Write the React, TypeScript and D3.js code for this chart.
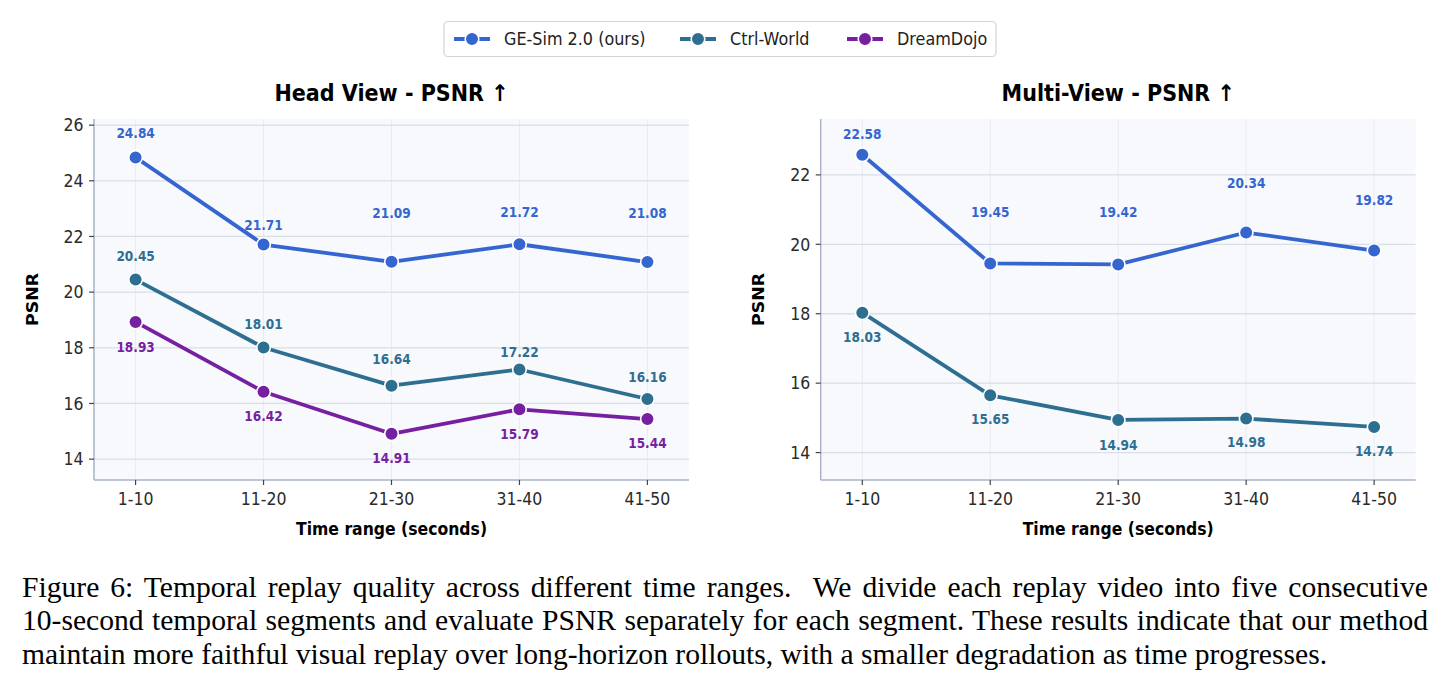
import React, { useEffect, useRef } from 'react';
import * as d3 from 'd3';

// time buckets on the x axis
const categories = ['1-10', '11-20', '21-30', '31-40', '41-50'];

// Head view PSNR
const headGeSim = [24.84, 21.71, 21.09, 21.72, 21.08];
const headCtrlWorld = [20.45, 18.01, 16.64, 17.22, 16.16];
const headDreamDojo = [18.93, 16.42, 14.91, 15.79, 15.44];
const headTicks = [14, 16, 18, 20, 22, 24, 26];

// Multi-view PSNR
const multiGeSim = [22.58, 19.45, 19.42, 20.34, 19.82];
const multiCtrlWorld = [18.03, 15.65, 14.94, 14.98, 14.74];
const multiTicks = [14, 16, 18, 20, 22];

const seriesNames = ['GE-Sim 2.0 (ours)', 'Ctrl-World', 'DreamDojo'];
const seriesColors = ['#3566d0', '#2e6f91', '#761fa0'];

// vertical nudge of each value label (px, relative to its marker)
const headGeSimLabelDy = [-24, -19, -49, -32, -49];
const headCtrlLabelDy = [-23, -23, -27, -17, -22];
const headDreamLabelDy = [25, 24, 24, 24.5, 24.5];
const multiGeSimLabelDy = [-21, -51, -52, -49, -50];
const multiCtrlLabelDy = [24, 24, 25, 24, 24.5];

const captionLines = [
  'Figure 6: Temporal replay quality across different time ranges.  We divide each replay video into five consecutive',
  '10-second temporal segments and evaluate PSNR separately for each segment. These results indicate that our method',
  'maintain more faithful visual replay over long-horizon rollouts, with a smaller degradation as time progresses.',
];

const FONT = '"DejaVu Sans", sans-serif';
const SQUASH = 0.9; // text is drawn slightly narrow

interface STextProps {
  x: number;
  y: number;
  size: number;
  weight?: string;
  anchor?: 'start' | 'middle' | 'end';
  fill?: string;
  vertical?: boolean;
  children: React.ReactNode;
}

const SText: React.FC<STextProps> = ({ x, y, size, weight = 'normal', anchor = 'middle', fill = '#222', vertical, children }) => (
  <text
    transform={`translate(${x},${y}) scale(${SQUASH},1)${vertical ? ' rotate(-90)' : ''}`}
    fontFamily={FONT}
    fontSize={size}
    fontWeight={weight}
    textAnchor={anchor}
    fill={fill}
  >
    {children}
  </text>
);

interface Series {
  values: number[];
  color: string;
  labelDy: number[];
}

interface PanelProps {
  left: number;
  right: number;
  top: number;
  bottom: number;
  title: string;
  yDomain: [number, number];
  ticks: number[];
  series: Series[];
}

const Panel: React.FC<PanelProps> = ({ left, right, top, bottom, title, yDomain, ticks, series }) => {
  const x = d3.scalePoint<string>().domain(categories).range([left, right]).padding(0.325);
  const y = d3.scaleLinear().domain(yDomain).range([bottom, top]);
  const line = d3.line<number>()
    .x((_, i) => x(categories[i]) as number)
    .y(d => y(d));
  const cx = (left + right) / 2;
  const labelSize = 13.5;

  return (
    <g>
      <rect x={left} y={top} width={right - left} height={bottom - top} fill="#f8f9fc" />
      {/* grid */}
      {categories.map(c => (
        <line key={c} x1={x(c)} x2={x(c)} y1={top} y2={bottom} stroke="#e8ebf2" strokeWidth={1} />
      ))}
      {ticks.map(t => (
        <line key={t} x1={left} x2={right} y1={y(t)} y2={y(t)} stroke="#d9dee8" strokeWidth={1.3} />
      ))}
      {/* spines */}
      <line x1={left} x2={left} y1={top} y2={bottom} stroke="#a8b3c8" strokeWidth={1.5} />
      <line x1={left} x2={right} y1={bottom} y2={bottom} stroke="#a8b3c8" strokeWidth={1.5} />
      {/* y axis */}
      {ticks.map(t => (
        <g key={t}>
          <line x1={left - 5} x2={left} y1={y(t)} y2={y(t)} stroke="#444" strokeWidth={1.2} />
          <SText x={left - 10.5} y={y(t) + 6.3} size={17.5} anchor="end" fill="#2a2a2a">{t}</SText>
        </g>
      ))}
      {/* x axis */}
      {categories.map(c => (
        <g key={c}>
          <line x1={x(c)} x2={x(c)} y1={bottom} y2={bottom + 5} stroke="#444" strokeWidth={1.2} />
          <SText x={x(c) as number} y={504.5} size={17.5} fill="#2a2a2a">{c}</SText>
        </g>
      ))}
      <SText x={cx} y={100.5} size={23} weight="bold" fill="#000">{title}</SText>
      <SText x={cx} y={535} size={17.4} weight="bold" fill="#000">Time range (seconds)</SText>
      <SText x={left - 56.5} y={(top + bottom) / 2} size={17.4} weight="bold" fill="#000" vertical>PSNR</SText>
      {/* series */}
      {series.map((s, si) => (
        <g key={si}>
          <path d={line(s.values) || ''} fill="none" stroke={s.color} strokeWidth={3.8} strokeLinejoin="round" />
          {s.values.map((v, i) => (
            <circle key={i} cx={x(categories[i])} cy={y(v)} r={6.8} fill={s.color} stroke="#fff" strokeWidth={1.6} />
          ))}
          {s.values.map((v, i) => (
            <SText
              key={`l${i}`}
              x={x(categories[i]) as number}
              y={y(v) + s.labelDy[i] + labelSize * 0.36}
              size={labelSize}
              weight="bold"
              fill={s.color}
            >
              {v.toFixed(2)}
            </SText>
          ))}
        </g>
      ))}
    </g>
  );
};

const Legend: React.FC = () => {
  const handleX = [454, 680, 847];
  return (
    <g>
      <rect x={444} y={21.5} width={552} height={35} rx={4} fill="#fff" stroke="#d4d4d4" strokeWidth={1.2} />
      {seriesNames.map((name, i) => (
        <g key={name}>
          <line x1={handleX[i]} x2={handleX[i] + 36} y1={39} y2={39} stroke={seriesColors[i]} strokeWidth={3.8} />
          <circle cx={handleX[i] + 18} cy={39} r={6.8} fill={seriesColors[i]} stroke="#fff" strokeWidth={1.6} />
          <SText x={handleX[i] + 50} y={45.3} size={17.8} anchor="start" fill="#222">{name}</SText>
        </g>
      ))}
    </g>
  );
};

export default function App() {
  const captionRefs = useRef<(SVGTextElement | null)[]>([]);
  const captionLeft = 22;
  const captionWidth = 1406;

  // stretch the first caption lines to the full text width
  useEffect(() => {
    captionRefs.current.forEach((el, i) => {
      if (!el || i === captionLines.length - 1) return;
      el.setAttribute('word-spacing', '0');
      const natural = el.getComputedTextLength();
      const spaces = (captionLines[i].match(/ /g) || []).length;
      if (spaces > 0) el.setAttribute('word-spacing', String((captionWidth - natural) / spaces));
    });
  }, []);

  return (
    <svg
      width={1444}
      height={691}
      style={{ position: 'absolute', left: 0, top: 0, background: '#fff' }}
    >
      <rect width={1444} height={691} fill="#fff" />
      <Legend />
      <Panel
        left={94}
        right={689}
        top={119}
        bottom={480}
        title="Head View - PSNR ↑"
        yDomain={[13.25, 26.22]}
        ticks={headTicks}
        series={[
          { values: headGeSim, color: seriesColors[0], labelDy: headGeSimLabelDy },
          { values: headCtrlWorld, color: seriesColors[1], labelDy: headCtrlLabelDy },
          { values: headDreamDojo, color: seriesColors[2], labelDy: headDreamLabelDy },
        ]}
      />
      <Panel
        left={820.7}
        right={1415.7}
        top={119}
        bottom={480}
        title="Multi-View - PSNR ↑"
        yDomain={[13.21, 23.61]}
        ticks={multiTicks}
        series={[
          { values: multiGeSim, color: seriesColors[0], labelDy: multiGeSimLabelDy },
          { values: multiCtrlWorld, color: seriesColors[1], labelDy: multiCtrlLabelDy },
        ]}
      />
      {captionLines.map((t, i) => (
        <text
          key={i}
          ref={el => { captionRefs.current[i] = el; }}
          x={captionLeft}
          y={596.5 + i * 33.6}
          fontFamily='"Liberation Serif", "Times New Roman", serif'
          fontSize={29.6}
          fill="#000"
          style={{ whiteSpace: 'pre' }}
        >
          {t}
        </text>
      ))}
    </svg>
  );
}
